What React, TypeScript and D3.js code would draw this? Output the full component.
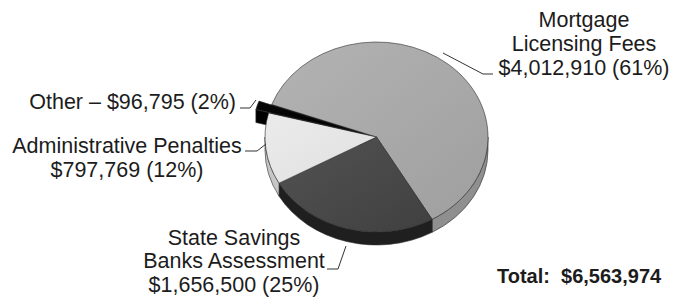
import React from "react";
import * as d3 from "d3";

// ---- data ----
const categories = [
  "Mortgage Licensing Fees",
  "State Savings Banks Assessment",
  "Administrative Penalties",
  "Other",
];
const categoryLines = [
  ["Mortgage", "Licensing Fees"],
  ["State Savings", "Banks Assessment"],
  ["Administrative Penalties"],
  ["Other"],
];
const values = [4012910, 1656500, 797769, 96795];
const percentLabels = [61, 25, 12, 2];
const exploded = [false, false, false, true];

// ---- styles / layout ----
const topColors = [
  ["#b3b3b3", "#9f9f9f"],
  ["#525252", "#404040"],
  ["#ebebeb", "#e0e0e0"],
  ["#080808", "#000000"],
];
const sideColors = ["#8f8f8f", "#1f1f1f", "#c6c6c6", "#000000"];

const W = 673;
const H = 301;
const cx = 376.5;
const cy = 137;
const rx = 111.5;
const ry = 95;
const depth = 13;
const startDeg = -70;
const explodeK = 0.12;

const labelLayout = [
  { x: 584, ys: [27, 51, 75], anchor: "middle", line: [[443, 53], [483, 74], [493, 74]] },
  { x: 234, ys: [245, 268, 292], anchor: "middle", line: [[346, 246], [338, 269], [327, 269]] },
  { x: 127, ys: [153, 177], anchor: "middle", line: [[266, 144], [257, 151], [245, 151]] },
  { x: 236, ys: [109], anchor: "end", line: [[256, 100], [250, 108], [240, 108]] },
];
const totalPos = { x: 497, y: 283 };

const FONT = "'Liberation Sans', Arial, sans-serif";
const fmt = d3.format("$,");

export default function App() {
  const total = d3.sum(values);
  const a0 = (startDeg * Math.PI) / 180;
  const pie = d3
    .pie<number>()
    .sort(null)
    .value((d) => d)
    .startAngle(a0)
    .endAngle(a0 + 2 * Math.PI);
  const arcs = pie(values);

  const offsets = arcs.map((a, i) => {
    if (!exploded[i]) return [0, 0];
    const m = (a.startAngle + a.endAngle) / 2;
    return [Math.sin(m) * rx * explodeK, -Math.cos(m) * ry * explodeK];
  });

  const P = (a: number, o: number[], h = 0) =>
    [cx + o[0] + rx * Math.sin(a), cy + o[1] - ry * Math.cos(a) + h] as [number, number];
  const s = (p: [number, number]) => `${p[0].toFixed(2)},${p[1].toFixed(2)}`;

  const topPath = (i: number) => {
    const a = arcs[i];
    const o = offsets[i];
    const c: [number, number] = [cx + o[0], cy + o[1]];
    const large = a.endAngle - a.startAngle > Math.PI ? 1 : 0;
    return `M${s(c)}L${s(P(a.startAngle, o))}A${rx},${ry} 0 ${large} 1 ${s(P(a.endAngle, o))}Z`;
  };

  const wallPaths = (i: number) => {
    const a = arcs[i];
    const o = offsets[i];
    const res: string[] = [];
    for (let k = -1; k <= 1; k++) {
      const lo = Math.PI / 2 + 2 * Math.PI * k;
      const hi = (3 * Math.PI) / 2 + 2 * Math.PI * k;
      const st = Math.max(a.startAngle, lo);
      const en = Math.min(a.endAngle, hi);
      if (en > st) {
        res.push(
          `M${s(P(st, o))}A${rx},${ry} 0 0 1 ${s(P(en, o))}L${s(P(en, o, depth))}A${rx},${ry} 0 0 0 ${s(
            P(st, o, depth)
          )}Z`
        );
      }
    }
    return res;
  };

  const radialPath = (angle: number, o: number[]) => {
    const c: [number, number] = [cx + o[0], cy + o[1]];
    const ch: [number, number] = [c[0], c[1] + depth];
    return `M${s(c)}L${s(P(angle, o))}L${s(P(angle, o, depth))}L${s(ch)}Z`;
  };

  const stroke = "#2a2a2a";
  const sw = 0.6;
  const otherIdx = 3;

  return (
    <svg
      width={W}
      height={H}
      viewBox={`0 0 ${W} ${H}`}
      style={{ position: "absolute", left: 0, top: 0, background: "#ffffff" }}
    >
      <defs>
        {topColors.map((c, i) => (
          <linearGradient key={i} id={`tg${i}`} x1="0" y1="0" x2="1" y2="1">
            <stop offset="0%" stopColor={c[0]} />
            <stop offset="100%" stopColor={c[1]} />
          </linearGradient>
        ))}
      </defs>
      <rect x={0} y={0} width={W} height={H} fill="#ffffff" />

      {/* side walls */}
      {arcs.map((_, i) =>
        wallPaths(i).map((d, j) => (
          <path key={`w${i}-${j}`} d={d} fill={sideColors[i]} stroke={stroke} strokeWidth={sw} />
        ))
      )}

      {/* radial faces visible through the exploded gap */}
      <path d={radialPath(arcs[0].startAngle, offsets[0])} fill="#111111" stroke={stroke} strokeWidth={sw} />
      <path
        d={radialPath(arcs[otherIdx].startAngle, offsets[otherIdx])}
        fill={sideColors[otherIdx]}
        stroke={stroke}
        strokeWidth={sw}
      />

      {/* top faces */}
      {arcs.map((_, i) => (
        <path key={`t${i}`} d={topPath(i)} fill={`url(#tg${i})`} stroke={stroke} strokeWidth={sw} />
      ))}

      {/* leader lines */}
      {labelLayout.map((l, i) => (
        <polyline
          key={`l${i}`}
          points={l.line.map((p) => p.join(",")).join(" ")}
          fill="none"
          stroke="#333333"
          strokeWidth={1}
        />
      ))}

      {/* labels */}
      {arcs.map((a, i) => {
        const l = labelLayout[i];
        const valueText = `${fmt(values[i])} (${percentLabels[i]}%)`;
        const lines =
          i === otherIdx
            ? [`${categoryLines[i][0]} \u2013 ${valueText}`]
            : [...categoryLines[i], valueText];
        return (
          <text
            key={`tx${i}`}
            textAnchor={l.anchor as any}
            fontFamily={FONT}
            fontSize={21.5}
            fill="#1c1c1c"
            aria-label={categories[i]}
          >
            {lines.map((t, j) => (
              <tspan key={j} x={l.x} y={l.ys[j]}>
                {t}
              </tspan>
            ))}
          </text>
        );
      })}

      <text
        x={totalPos.x}
        y={totalPos.y}
        fontFamily={FONT}
        fontSize={20}
        fontWeight="bold"
        fill="#1c1c1c"
        style={{ whiteSpace: "pre" }}
      >
        {`Total:  ${fmt(total)}`}
      </text>
    </svg>
  );
}
